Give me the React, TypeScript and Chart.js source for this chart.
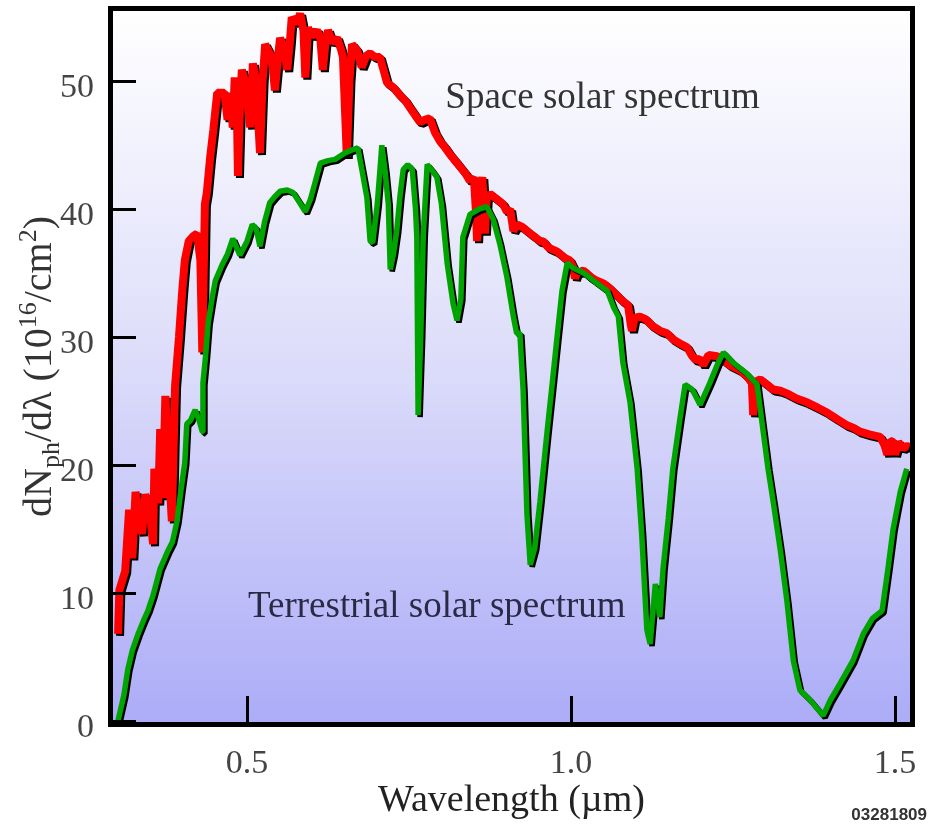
import React, { useEffect, useRef } from 'react';
import { Chart, registerables } from 'chart.js';

Chart.register(...registerables);

// Space (AM0) solar photon flux spectrum
const spaceWavelength = [
  0.301, 0.303, 0.312, 0.318, 0.323, 0.328, 0.333, 0.338, 0.343, 0.35, 0.355, 0.357, 0.363, 0.366, 0.37, 0.374,
  0.379, 0.384, 0.389, 0.395, 0.4, 0.404, 0.41, 0.417, 0.423, 0.428, 0.431, 0.435, 0.438, 0.443, 0.448, 0.454,
  0.465, 0.47, 0.474, 0.478, 0.481, 0.484, 0.486, 0.489, 0.492, 0.497, 0.505, 0.509, 0.514, 0.52, 0.524, 0.528,
  0.535, 0.54, 0.543, 0.548, 0.551, 0.557, 0.562, 0.566, 0.569, 0.576, 0.582, 0.587, 0.59, 0.594, 0.6, 0.608,
  0.613, 0.617, 0.621, 0.625, 0.632, 0.639, 0.645, 0.648, 0.651, 0.654, 0.658, 0.662, 0.67, 0.677, 0.684, 0.69,
  0.697, 0.705, 0.71, 0.716, 0.726, 0.736, 0.744, 0.752, 0.76, 0.767, 0.775, 0.782, 0.79, 0.798, 0.806, 0.813,
  0.821, 0.829, 0.837, 0.844, 0.85, 0.853, 0.855, 0.858, 0.863, 0.866, 0.867, 0.87, 0.875, 0.885, 0.895, 0.901,
  0.906, 0.911, 0.917, 0.925, 0.937, 0.945, 0.952, 0.957, 0.965, 0.978, 0.983, 0.99, 0.998, 1.003, 1.006, 1.009,
  1.019, 1.03, 1.04, 1.05, 1.06, 1.07, 1.08, 1.088, 1.092, 1.094, 1.098, 1.106, 1.115, 1.125, 1.137, 1.148,
  1.158, 1.168, 1.179, 1.187, 1.193, 1.199, 1.204, 1.212, 1.225, 1.23, 1.245, 1.261, 1.272, 1.279, 1.281, 1.285,
  1.292, 1.302, 1.312, 1.323, 1.333, 1.348, 1.364, 1.38, 1.395, 1.41, 1.426, 1.436, 1.446, 1.46, 1.477, 1.484,
  1.488, 1.492, 1.497, 1.5, 1.505, 1.512, 1.518, 1.522,
];
const spaceFlux = [
  6.8, 10.2, 11.7, 16.5, 12.7, 17.9, 16.0, 14.6, 17.7, 16.5, 13.8, 19.7, 17.0, 22.8, 17.4, 25.4,
  20.0, 15.6, 26.2, 30.0, 33.6, 36.0, 37.5, 37.9, 38.1, 36.0, 28.8, 40.4, 41.3, 44.0, 46.2, 49.1,
  49.1, 47.0, 49.1, 46.4, 50.3, 49.0, 42.6, 48.0, 50.9, 50.0, 46.4, 51.4, 50.0, 44.4, 50.0, 52.9,
  52.2, 51.0, 49.3, 52.0, 53.4, 52.5, 50.9, 53.0, 55.0, 54.5, 55.3, 54.0, 50.3, 54.2, 53.5, 54.0,
  53.4, 50.9, 53.0, 54.0, 53.0, 53.4, 52.5, 51.9, 48.0, 44.1, 50.0, 52.9, 52.4, 51.1, 52.0, 52.2,
  51.9, 51.9, 51.0, 49.9, 49.5, 48.9, 48.5, 47.9, 47.3, 46.8, 47.0, 47.1, 46.0, 45.3, 44.8, 44.3,
  43.8, 43.3, 42.8, 42.2, 42.5, 40.0, 37.5, 41.0, 42.5, 40.0, 38.1, 40.9, 41.2, 40.8, 40.4, 39.8,
  40.0, 38.3, 38.8, 38.6, 38.1, 37.8, 37.5, 37.5, 37.0, 36.7, 36.5, 36.2, 36.0, 35.5, 34.6, 35.0,
  35.2, 34.7, 34.4, 34.2, 33.8, 33.3, 32.8, 32.5, 31.0, 30.5, 31.5, 31.6, 31.4, 30.9, 30.5, 30.3,
  29.8, 29.5, 29.2, 28.5, 28.2, 28.3, 27.8, 28.6, 28.5, 28.4, 27.8, 27.4, 26.9, 26.4, 23.9, 26.5,
  26.7, 26.3, 25.9, 25.8, 25.6, 25.2, 24.9, 24.5, 24.1, 23.6, 23.1, 22.9, 22.6, 22.4, 22.2, 21.5,
  20.8, 21.9, 21.8, 20.8, 21.8, 21.3, 21.5, 21.4,
];

// Terrestrial solar photon flux spectrum
const terrWavelength = [
  0.301, 0.31, 0.316, 0.323, 0.332, 0.34, 0.347, 0.355, 0.366, 0.378, 0.385, 0.392, 0.398, 0.404, 0.407, 0.413,
  0.42, 0.426, 0.431, 0.432, 0.436, 0.44, 0.446, 0.451, 0.461, 0.47, 0.478, 0.489, 0.5, 0.508, 0.514, 0.52,
  0.527, 0.535, 0.543, 0.551, 0.562, 0.571, 0.58, 0.59, 0.598, 0.605, 0.613, 0.625, 0.636, 0.651, 0.66, 0.671,
  0.679, 0.685, 0.69, 0.694, 0.701, 0.705, 0.708, 0.713, 0.718, 0.721, 0.726, 0.731, 0.736, 0.741, 0.748, 0.755,
  0.76, 0.762, 0.764, 0.768, 0.772, 0.778, 0.786, 0.793, 0.8, 0.809, 0.818, 0.824, 0.83, 0.833, 0.844, 0.858,
  0.87, 0.88, 0.89, 0.901, 0.911, 0.916, 0.921, 0.926, 0.932, 0.937, 0.944, 0.952, 0.963, 0.971, 0.978, 0.986,
  0.994, 1.003, 1.02, 1.04, 1.056, 1.065, 1.073, 1.08, 1.091, 1.102, 1.109, 1.117, 1.122, 1.13, 1.137, 1.142,
  1.15, 1.157, 1.168, 1.176, 1.187, 1.199, 1.214, 1.227, 1.235, 1.25, 1.27, 1.287, 1.296, 1.304, 1.312, 1.323,
  1.333, 1.343, 1.353, 1.369, 1.389, 1.4, 1.415, 1.435, 1.451, 1.465, 1.48, 1.489, 1.497, 1.508, 1.518,
];
const terrFlux = [
  0.0, 2.0, 4.0, 5.5, 6.8, 7.8, 8.6, 9.8, 11.9, 13.3, 14.0, 15.6, 18.0, 20.2, 23.2, 23.5,
  24.3, 23.5, 22.6, 26.4, 28.5, 31.1, 33.0, 34.4, 35.6, 36.5, 37.7, 36.4, 37.5, 38.8, 38.5, 37.1,
  39.0, 40.5, 41.0, 41.4, 41.5, 41.3, 40.6, 39.8, 40.8, 42.1, 43.6, 43.8, 43.9, 44.4, 44.6, 44.8,
  42.6, 40.9, 37.5, 37.4, 40.4, 43.0, 45.0, 43.0, 40.4, 35.3, 36.5, 38.3, 41.0, 43.1, 43.5, 43.1,
  40.0, 37.8, 23.9, 30.0, 38.0, 43.5, 43.0, 42.5, 40.4, 35.7, 32.6, 31.3, 33.0, 37.8, 39.6, 40.0,
  40.2, 39.2, 37.3, 34.7, 31.6, 30.3, 30.3, 25.9, 16.1, 12.2, 13.5, 17.1, 22.6, 26.4, 29.8, 33.6,
  35.8, 35.4, 35.0, 34.2, 33.6, 32.4, 31.6, 28.0, 24.9, 19.7, 14.6, 7.1, 6.0, 10.7, 8.1, 11.9,
  15.8, 19.7, 23.6, 26.3, 25.9, 24.7, 26.4, 28.0, 28.8, 28.0, 27.2, 26.3, 22.8, 19.7, 17.1, 13.3,
  9.4, 4.7, 2.4, 1.6, 0.4, 1.6, 2.9, 4.7, 6.8, 8.0, 8.6, 11.9, 15.0, 17.9, 19.7,
];

const xTickValues = [0.5, 1.0, 1.5];
const xTickLabels = ['0.5', '1.0', '1.5'];
const yTickValues = [0, 10, 20, 30, 40, 50];
const yTickLabels = ['0', '10', '20', '30', '40', '50'];

const SERIF = "'Liberation Serif', 'DejaVu Serif', serif";

const shadowPlugin = {
  id: 'lineShadow',
  beforeDatasetDraw(chart: any) {
    const ctx = chart.ctx;
    ctx.save();
    ctx.shadowColor = '#000000';
    ctx.shadowOffsetX = 2;
    ctx.shadowOffsetY = 2;
    ctx.shadowBlur = 0;
  },
  afterDatasetDraw(chart: any) {
    chart.ctx.restore();
  },
};

const framePlugin = {
  id: 'frame',
  beforeDraw(chart: any) {
    const { ctx, chartArea: a } = chart;
    const g = ctx.createLinearGradient(0, a.top, 0, a.bottom);
    g.addColorStop(0, '#ffffff');
    g.addColorStop(0.5, '#dcdcfa');
    g.addColorStop(1, '#acacf8');
    ctx.save();
    ctx.fillStyle = g;
    ctx.fillRect(a.left, a.top, a.right - a.left, a.bottom - a.top);
    ctx.restore();
  },
  afterDatasetsDraw(chart: any) {
    const { ctx, chartArea: a, scales } = chart;
    ctx.save();
    ctx.strokeStyle = '#000000';
    ctx.lineWidth = 3;
    ctx.beginPath();
    yTickValues.forEach((v) => {
      const y = Math.round(scales.y.getPixelForValue(v)) + 0.5;
      ctx.moveTo(a.left, y);
      ctx.lineTo(a.left + 23, y);
    });
    xTickValues.forEach((v) => {
      const x = Math.round(scales.x.getPixelForValue(v)) + 0.5;
      ctx.moveTo(x, a.bottom);
      ctx.lineTo(x, a.bottom - 26);
    });
    ctx.stroke();
    ctx.lineWidth = 5;
    ctx.strokeRect(a.left - 2.5, a.top - 2.5, a.right - a.left + 5, a.bottom - a.top + 5);

    // curve annotations
    ctx.font = `37px ${SERIF}`;
    ctx.textBaseline = 'alphabetic';
    ctx.textAlign = 'left';
    ctx.fillStyle = '#333333';
    ctx.fillText('Space solar spectrum', scales.x.getPixelForValue(0.806), scales.y.getPixelForValue(47.9));
    ctx.fillStyle = '#2a2a44';
    ctx.fillText('Terrestrial solar spectrum', scales.x.getPixelForValue(0.5015), scales.y.getPixelForValue(8.1));

    // y axis title with sub/superscripts
    const big = 40;
    const small = 26;
    const segs = [
      { t: 'dN', s: big, dy: 0 },
      { t: 'ph', s: small, dy: 8 },
      { t: '/dλ (10', s: big, dy: 0 },
      { t: '16', s: small, dy: -15 },
      { t: '/cm', s: big, dy: 0 },
      { t: '2', s: small, dy: -15 },
      { t: ')', s: big, dy: 0 },
    ];
    let total = 0;
    const widths = segs.map((sg) => {
      ctx.font = `${sg.s}px ${SERIF}`;
      const w = ctx.measureText(sg.t).width;
      total += w;
      return w;
    });
    ctx.translate(a.left - 76, (a.top + a.bottom) / 2);
    ctx.rotate(-Math.PI / 2);
    ctx.fillStyle = '#333333';
    let x = -total / 2;
    segs.forEach((sg, i) => {
      ctx.font = `${sg.s}px ${SERIF}`;
      ctx.fillText(sg.t, x, 14 + sg.dy);
      x += widths[i];
    });
    ctx.restore();

    ctx.save();
    ctx.font = `bold 17px 'Liberation Sans', sans-serif`;
    ctx.fillStyle = '#333333';
    ctx.textAlign = 'right';
    ctx.textBaseline = 'alphabetic';
    ctx.fillText('03281809', chart.width - 3, chart.height - 4);
    ctx.restore();
  },
};

export default function App() {
  const ref = useRef<HTMLCanvasElement | null>(null);

  useEffect(() => {
    if (!ref.current) return;
    const chart = new Chart(ref.current, {
      type: 'line',
      data: {
        datasets: [
          {
            label: 'Terrestrial solar spectrum',
            data: terrWavelength.map((x, i) => ({ x, y: terrFlux[i] })),
            borderColor: '#00a400',
            borderWidth: 5.5,
            pointRadius: 0,
            tension: 0,
            fill: false,
            borderJoinStyle: 'bevel',
            order: 0,
          },
          {
            label: 'Space solar spectrum',
            data: spaceWavelength.map((x, i) => ({ x, y: spaceFlux[i] })),
            borderColor: '#ff0000',
            borderWidth: 8,
            pointRadius: 0,
            tension: 0,
            fill: false,
            borderJoinStyle: 'bevel',
            order: 1,
          },
        ],
      },
      options: {
        responsive: false,
        animation: false,
        devicePixelRatio: 1,
        layout: { padding: { top: 11, right: 20, left: 0, bottom: 0 } },
        plugins: { legend: { display: false }, tooltip: { enabled: false } },
        scales: {
          x: {
            type: 'linear',
            min: 0.2932,
            max: 1.523,
            grid: { display: false },
            border: { display: false },
            afterBuildTicks: (s: any) => {
              s.ticks = xTickValues.map((v) => ({ value: v }));
            },
            afterFit: (s: any) => {
              s.height = 102;
              s.paddingLeft = 0;
              s.paddingRight = 0;
            },
            ticks: {
              callback: (v: any) => xTickLabels[xTickValues.indexOf(Number(v))],
              font: { family: SERIF, size: 34 },
              color: '#444444',
              padding: 14,
              maxRotation: 0,
              autoSkip: false,
            },
            title: {
              display: true,
              text: 'Wavelength (µm)',
              font: { family: SERIF, size: 38 },
              color: '#222222',
              padding: 0,
            },
          },
          y: {
            type: 'linear',
            min: -0.1,
            max: 55.5,
            grid: { display: false },
            border: { display: false },
            afterBuildTicks: (s: any) => {
              s.ticks = yTickValues.map((v) => ({ value: v }));
            },
            afterFit: (s: any) => {
              s.width = 113;
              s.paddingTop = 0;
              s.paddingBottom = 0;
            },
            ticks: {
              callback: (v: any) => yTickLabels[yTickValues.indexOf(Number(v))],
              font: { family: SERIF, size: 34 },
              color: '#444444',
              padding: 11,
              labelOffset: 7,
              autoSkip: false,
            },
          },
        },
      },
      plugins: [framePlugin, shadowPlugin],
    } as any);
    return () => chart.destroy();
  }, []);

  return (
    <canvas
      ref={ref}
      width={930}
      height={824}
      style={{ position: 'fixed', left: 0, top: 0, width: 930, height: 824 }}
    />
  );
}
